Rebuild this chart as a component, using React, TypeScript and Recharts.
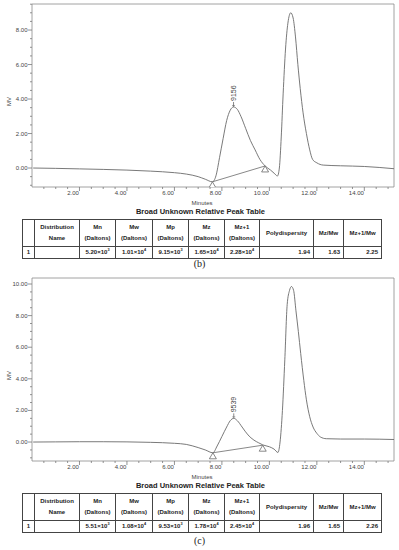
import React from "react";
import { ComposedChart, Line, Scatter, XAxis, YAxis, ReferenceArea } from "recharts";

// (b) chromatogram, minutes vs MV
const minutesB = [0.05, 1, 2, 3, 4, 5, 6, 6.5, 7, 7.3, 7.6, 7.75, 7.9, 8.05, 8.2, 8.35, 8.49, 8.65, 8.8, 9.0, 9.2, 9.4, 9.6, 9.82, 10.05, 10.2, 10.34, 10.42, 10.5, 10.58, 10.68, 10.78, 10.9, 11.0, 11.1, 11.2, 11.3, 11.42, 11.56, 11.7, 11.82, 12.0, 12.27, 13, 14, 15.25];
const mvB = [0.0, -0.02, -0.05, -0.08, -0.12, -0.18, -0.27, -0.35, -0.5, -0.65, -0.8, -0.45, 0.6, 1.7, 2.75, 3.35, 3.54, 3.4, 3.0, 2.3, 1.6, 1.05, 0.5, 0.12, -0.12, -0.3, -0.46, 0.0, 1.8, 4.3, 6.9, 8.4, 9.0, 8.7, 7.6, 6.0, 4.6, 3.2, 2.0, 1.05, 0.5, 0.3, 0.17, 0.13, 0.09, -0.04];
const dropMinutesB = [7.6, 9.82];
const dropMvB = [-0.8, 0.12];
const peakB = { t: 8.49, v: 3.54, label: "9156" };

// (c) chromatogram
const minutesC = [0.05, 1, 2, 3, 4, 5, 6, 6.5, 7, 7.3, 7.62, 7.8, 8.0, 8.2, 8.35, 8.5, 8.65, 8.85, 9.1, 9.35, 9.55, 9.72, 10.0, 10.2, 10.36, 10.45, 10.55, 10.65, 10.75, 10.85, 10.93, 11.02, 11.12, 11.22, 11.32, 11.45, 11.56, 11.7, 11.84, 12.0, 12.15, 12.4, 13, 14, 15.25];
const mvC = [0.0, 0.01, 0.02, 0.02, 0.01, -0.02, -0.08, -0.15, -0.35, -0.5, -0.68, -0.25, 0.35, 0.95, 1.35, 1.5, 1.35, 0.95, 0.45, 0.12, -0.05, -0.18, -0.3, -0.45, -0.66, 0.0, 2.0, 5.2, 8.7, 9.6, 9.84, 9.6, 8.3, 7.0, 5.6, 3.9, 2.67, 1.6, 0.95, 0.55, 0.32, 0.21, 0.19, 0.19, 0.16];
const dropMinutesC = [7.62, 9.72];
const dropMvC = [-0.68, -0.2];
const peakC = { t: 8.5, v: 1.5, label: "9539" };

// axes
const majorX = [2, 4, 6, 8, 10, 12, 14];
const majorYB = [0, 2, 4, 6, 8];
const majorYC = [0, 2, 4, 6, 8, 10];

// peak tables
const headTop = ["", "Distribution", "Mn", "Mw", "Mp", "Mz", "Mz+1", "Polydispersity", "Mz/Mw", "Mz+1/Mw"];
const headBottom = ["", "Name", "(Daltons)", "(Daltons)", "(Daltons)", "(Daltons)", "(Daltons)", "", "", ""];
const mantB = ["5.20", "1.01", "9.15", "1.65", "2.28"];
const expB = [3, 4, 3, 4, 4];
const ratioB = ["1.94", "1.63", "2.25"];
const mantC = ["5.51", "1.08", "9.53", "1.78", "2.45"];
const expC = [3, 4, 3, 4, 4];
const ratioC = ["1.96", "1.65", "2.26"];

const colW = [12, 45, 36, 37, 36, 36, 35, 54, 30, 38];
const FONT = "'Liberation Sans', Arial, sans-serif";
const LINE = "#6a6a6a";
const TXT = "#444";

const minorX = Array.from({ length: 30 }, (_, i) => (i + 1) * 0.5);

const pts = (ts: number[], vs: number[]) => ts.map((t, i) => ({ t, v: vs[i] }));

const XTick = (props: any) => {
  const { x, y, payload } = props;
  const v = payload.value;
  const major = majorX.includes(v);
  return (
    <g>
      <line x1={x} x2={x} y1={y} y2={y + (major ? 4 : 2)} stroke="#777" strokeWidth={0.8} />
      {major && (
        <text x={x - 0.5} y={y + 8} textAnchor="end" fontSize={6} fill={TXT} fontFamily={FONT}>
          {v.toFixed(2)}
        </text>
      )}
    </g>
  );
};

const makeYTick = (majors: number[]) => (props: any) => {
  const { x, y, payload } = props;
  const v = payload.value;
  const major = majors.includes(v);
  return (
    <g>
      <line x1={x - (major ? 4 : 2)} x2={x} y1={y} y2={y} stroke="#777" strokeWidth={0.8} />
      {major && (
        <text x={x - 4.5} y={y + 2} textAnchor="end" fontSize={6} fill={TXT} fontFamily={FONT}>
          {v.toFixed(2)}
        </text>
      )}
    </g>
  );
};

const Tri = (props: any) => {
  const { cx, cy } = props;
  return <path d={`M${cx},${cy} L${cx - 3.5},${cy + 6} L${cx + 3.5},${cy + 6} Z`} fill="white" stroke={LINE} strokeWidth={0.8} />;
};

const PeakMark = (props: any) => {
  const { cx, cy, payload } = props;
  return (
    <g>
      <line x1={cx} x2={cx} y1={cy} y2={cy - 5} stroke={LINE} strokeWidth={0.8} />
      <line x1={cx - 1.5} x2={cx + 1.5} y1={cy - 1.5} y2={cy - 1.5} stroke={LINE} strokeWidth={0.6} />
      <text transform={`translate(${cx + 2.5},${cy - 6}) rotate(-90)`} fontSize={7} fill={TXT} fontFamily={FONT}>
        {payload.label}
      </text>
    </g>
  );
};

type ChromProps = {
  minutes: number[];
  mv: number[];
  dropT: number[];
  dropV: number[];
  peak: { t: number; v: number; label: string };
  yDomain: [number, number];
  yMajors: number[];
};

const Chromatogram = ({ minutes, mv, dropT, dropV, peak, yDomain, yMajors }: ChromProps) => {
  const curve = pts(minutes, mv);
  const drop = pts(dropT, dropV);
  const yTicks: number[] = [];
  for (let v = Math.ceil(yDomain[0] * 2) / 2; v <= yDomain[1]; v += 0.5) yTicks.push(Math.round(v * 2) / 2);
  const xDomain: [number, number] = [0, 15.25];
  return (
    <ComposedChart width={399} height={210} data={curve} margin={{ top: 4, right: 5, bottom: 0, left: 0 }}>
      <XAxis
        dataKey="t"
        type="number"
        domain={xDomain}
        allowDataOverflow
        ticks={minorX}
        interval={0}
        tick={XTick}
        tickSize={0}
        tickMargin={0}
        tickLine={false}
        axisLine={false}
        height={23}
        label={(p: any) => (
          <text x={202} y={p.viewBox.y + 18} textAnchor="middle" fontSize={6} fill={TXT} fontFamily={FONT}>
            Minutes
          </text>
        )}
      />
      <YAxis
        type="number"
        domain={yDomain}
        allowDataOverflow
        ticks={yTicks}
        interval={0}
        tick={makeYTick(yMajors)}
        tickSize={0}
        tickMargin={0}
        tickLine={false}
        axisLine={false}
        width={32}
        label={(p: any) => (
          <text
            transform={`translate(11,${p.viewBox.y + p.viewBox.height / 2 + 6}) rotate(-90)`}
            textAnchor="middle"
            fontSize={6}
            fill={TXT}
            fontFamily={FONT}
          >
            MV
          </text>
        )}
      />
      <ReferenceArea x1={xDomain[0]} x2={xDomain[1]} y1={yDomain[0]} y2={yDomain[1]} fill="none" stroke="#8a8a8a" strokeWidth={0.8} ifOverflow="visible" />
      <Line dataKey="v" type="monotone" stroke={LINE} strokeWidth={0.9} dot={false} activeDot={false} isAnimationActive={false} />
      <Line data={drop} dataKey="v" type="linear" stroke={LINE} strokeWidth={0.8} dot={false} activeDot={false} isAnimationActive={false} />
      <Scatter data={drop} dataKey="v" shape={Tri} isAnimationActive={false} />
      <Scatter data={[peak]} dataKey="v" shape={PeakMark} isAnimationActive={false} />
    </ComposedChart>
  );
};

const cell: React.CSSProperties = {
  border: "1px solid #444",
  padding: 0,
  fontSize: 6,
  fontWeight: "bold",
  color: "#222",
  textAlign: "center",
  lineHeight: "11px",
};

const PeakTable = ({ mant, exp, ratio, top }: { mant: string[]; exp: number[]; ratio: string[]; top: number }) => (
  <table style={{ position: "absolute", left: 22, top, borderCollapse: "collapse", tableLayout: "fixed", width: 359, fontFamily: FONT }}>
    <colgroup>
      {colW.map((w, i) => (
        <col key={i} style={{ width: w }} />
      ))}
    </colgroup>
    <tbody>
      <tr style={{ height: 27 }}>
        {headTop.map((h, i) => (
          <td key={i} style={cell}>
            {h}
            {headBottom[i] && (
              <>
                <br />
                {headBottom[i]}
              </>
            )}
          </td>
        ))}
      </tr>
      <tr style={{ height: 11 }}>
        <td style={cell}>1</td>
        <td style={cell}></td>
        {mant.map((m, i) => (
          <td key={i} style={cell}>
            {m}×10<sup style={{ fontSize: 3.8, verticalAlign: "top", lineHeight: "6px" }}>{exp[i]}</sup>
          </td>
        ))}
        {ratio.map((r, i) => (
          <td key={i} style={{ ...cell, textAlign: "right", paddingRight: 3 }}>
            {r}
          </td>
        ))}
      </tr>
    </tbody>
  </table>
);

const Title = ({ top }: { top: number }) => (
  <div style={{ position: "absolute", left: 0, top, width: 401, textAlign: "center", fontSize: 7.5, fontWeight: "bold", color: "#222", fontFamily: FONT, lineHeight: "10px" }}>
    Broad Unknown Relative Peak Table
  </div>
);

const Caption = ({ top, text }: { top: number; text: string }) => (
  <div style={{ position: "absolute", left: 0, top, width: 399, textAlign: "center", fontSize: 10, color: "#222", fontFamily: "'Liberation Serif', 'Times New Roman', serif", lineHeight: "12px" }}>
    {text}
  </div>
);

export default function App() {
  return (
    <div style={{ position: "absolute", left: 0, top: 0, width: 399, height: 550, background: "#fff", overflow: "hidden" }}>
      <div style={{ position: "absolute", left: 0, top: 0 }}>
        <Chromatogram minutes={minutesB} mv={mvB} dropT={dropMinutesB} dropV={dropMvB} peak={peakB} yDomain={[-1.1, 9.51]} yMajors={majorYB} />
      </div>
      <Title top={207} />
      <PeakTable mant={mantB} exp={expB} ratio={ratioB} top={219} />
      <Caption top={258} text="(b)" />
      <div style={{ position: "absolute", left: 0, top: 274 }}>
        <Chromatogram minutes={minutesC} mv={mvC} dropT={dropMinutesC} dropV={dropMvC} peak={peakC} yDomain={[-1.2, 10.38]} yMajors={majorYC} />
      </div>
      <Title top={481} />
      <PeakTable mant={mantC} exp={expC} ratio={ratioC} top={493} />
      <Caption top={535} text="(c)" />
    </div>
  );
}
